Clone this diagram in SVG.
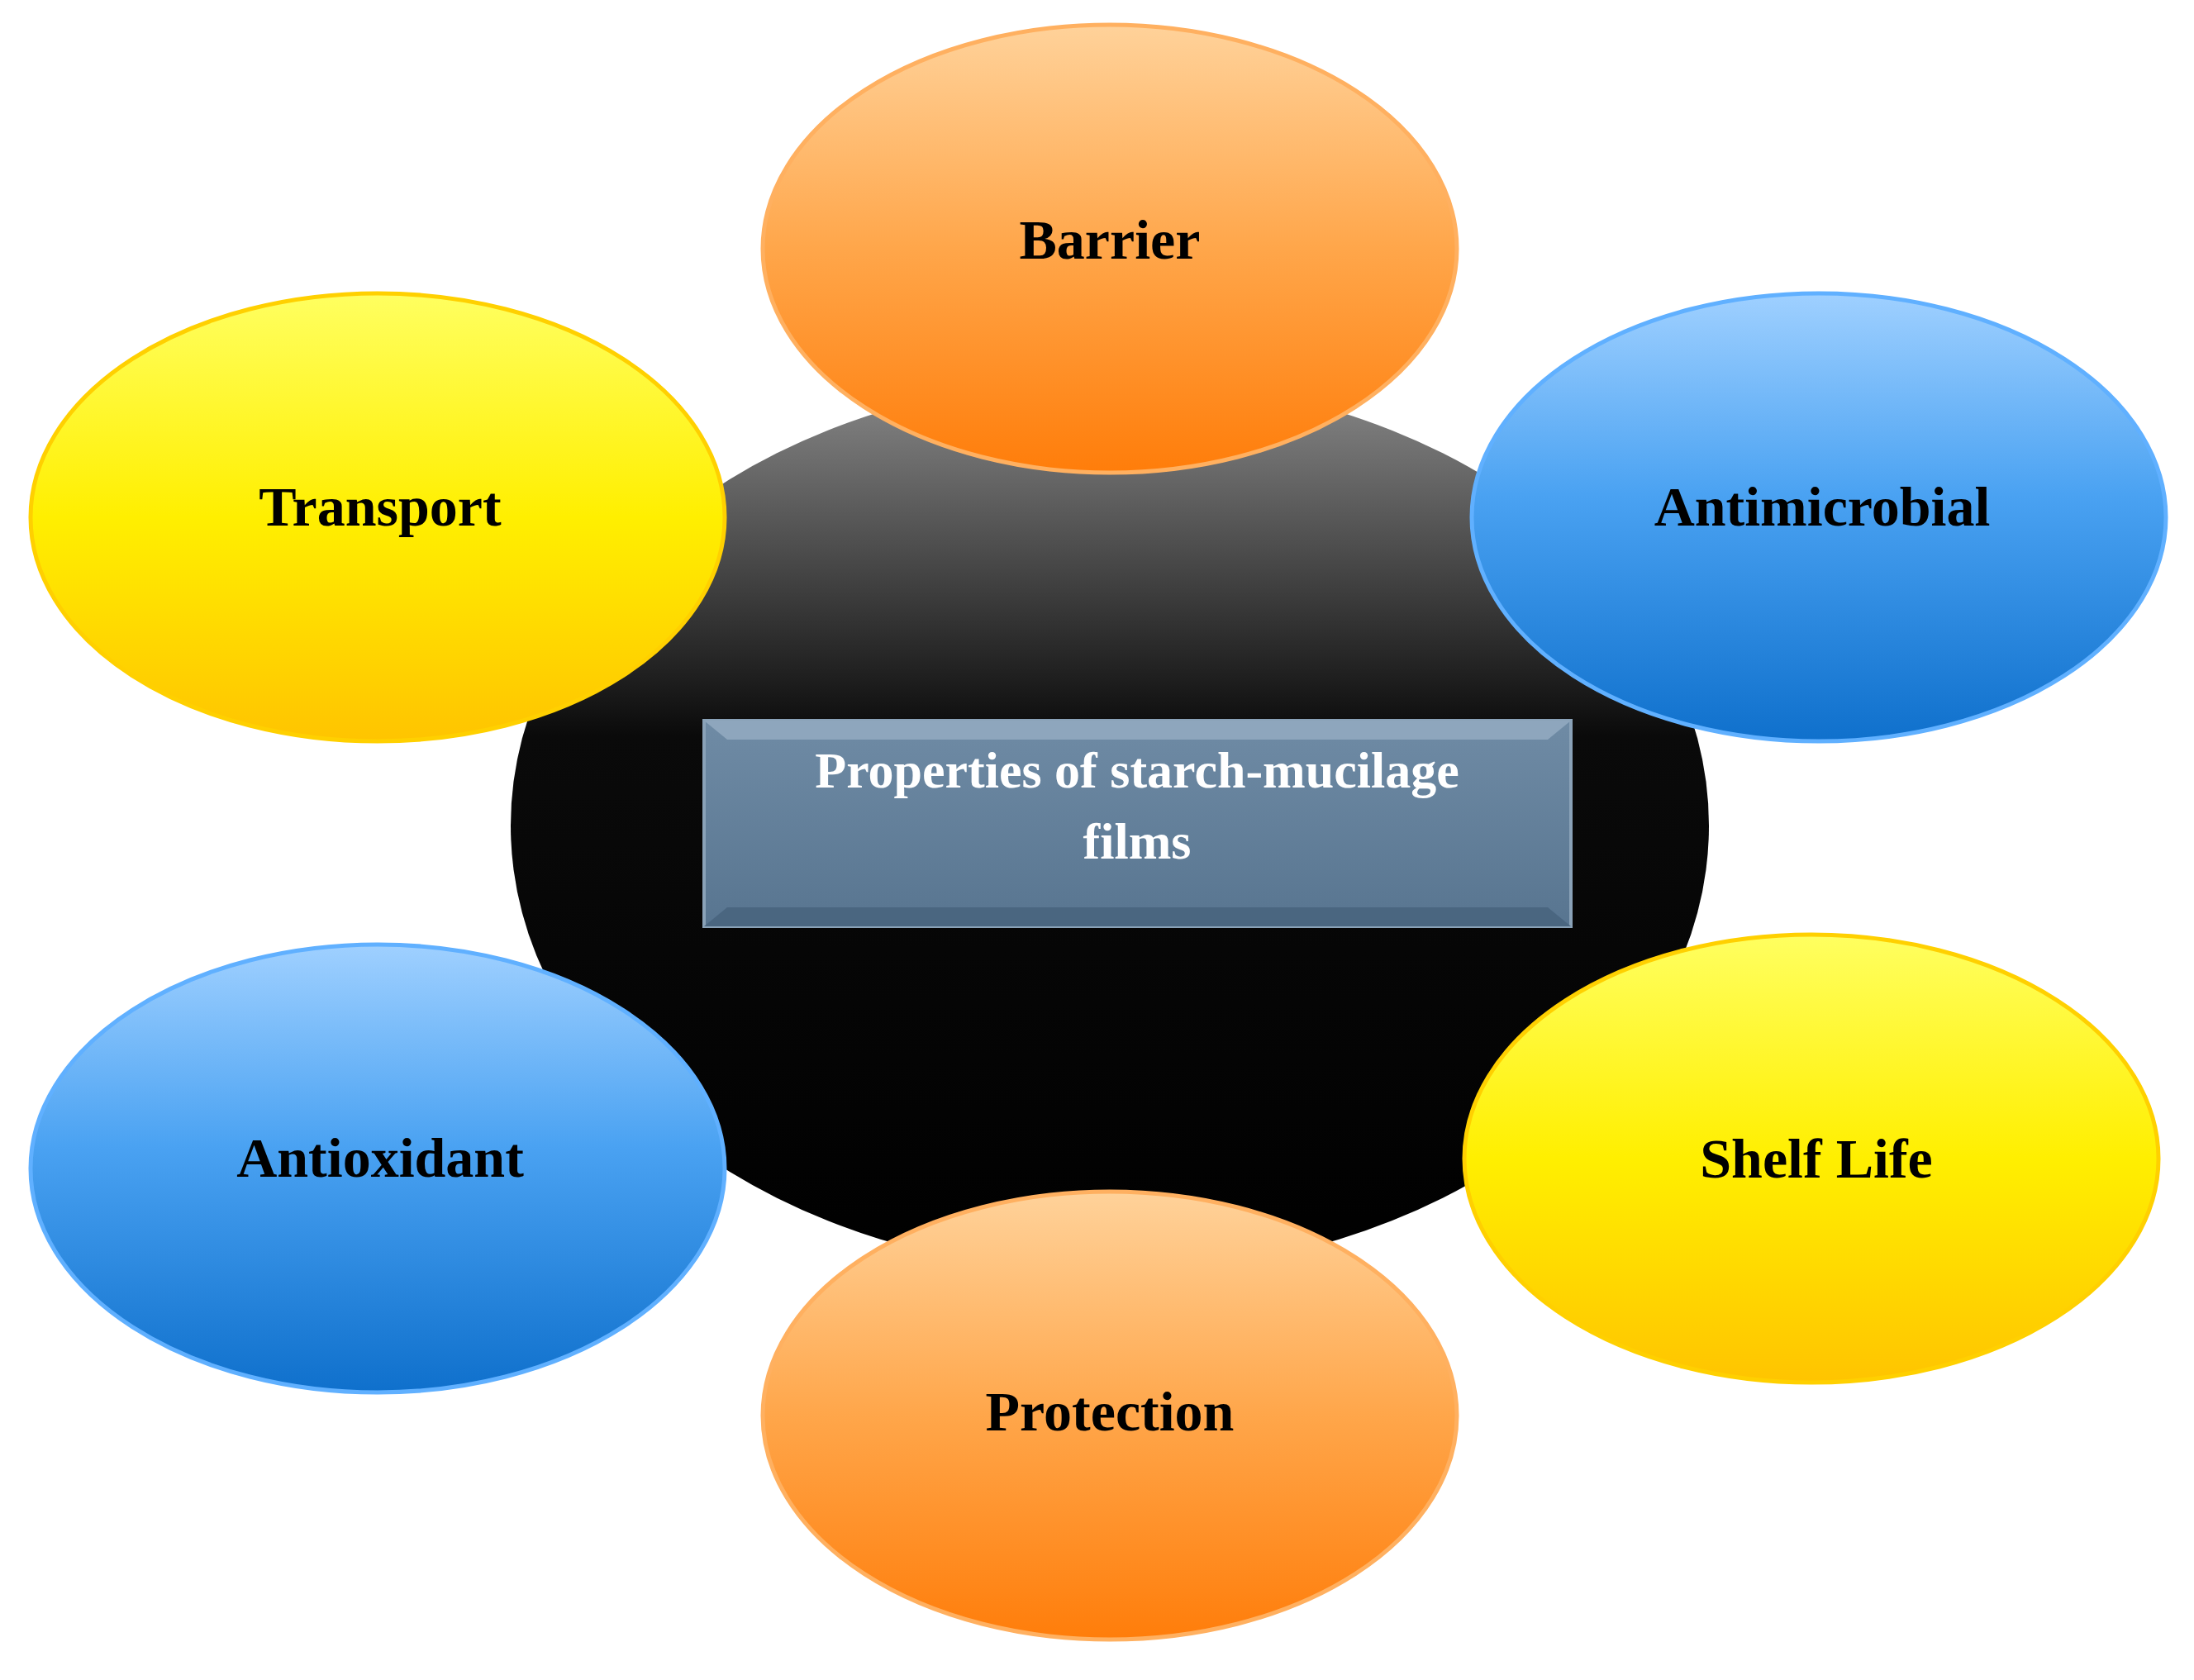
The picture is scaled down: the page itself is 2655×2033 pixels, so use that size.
<svg xmlns="http://www.w3.org/2000/svg" width="2655" height="2033" viewBox="0 0 2655 2033">
<defs>
<linearGradient id="gOr" x1="0" y1="0" x2="0" y2="1"><stop offset="0" stop-color="#ffd29a"/><stop offset="0.5" stop-color="#ffa64a"/><stop offset="1" stop-color="#ff7d0a"/></linearGradient>
<linearGradient id="gYe" x1="0" y1="0" x2="0" y2="1"><stop offset="0" stop-color="#ffff60"/><stop offset="0.5" stop-color="#ffef00"/><stop offset="1" stop-color="#ffc400"/></linearGradient>
<linearGradient id="gBl" x1="0" y1="0" x2="0" y2="1"><stop offset="0" stop-color="#9fd0ff"/><stop offset="0.45" stop-color="#4aa2f2"/><stop offset="1" stop-color="#0f70cc"/></linearGradient>
<linearGradient id="gBk" x1="0" y1="0" x2="0" y2="1"><stop offset="0" stop-color="#8a8a8a"/><stop offset="0.4" stop-color="#0a0a0a"/><stop offset="1" stop-color="#000"/></linearGradient>
<linearGradient id="gBox" x1="0" y1="0" x2="0" y2="1"><stop offset="0" stop-color="#6f8ba5"/><stop offset="1" stop-color="#587590"/></linearGradient>
</defs>
<style>
.lbl{font-family:"Liberation Serif",serif;font-weight:bold;font-size:68px;fill:#000;text-anchor:middle}
.ctr{font-family:"Liberation Serif",serif;font-weight:bold;font-size:62px;fill:#fff;text-anchor:middle}
.or{fill:url(#gOr);stroke:#ffb060;stroke-width:5}
.ye{fill:url(#gYe);stroke:#ffd000;stroke-width:5}
.bl{fill:url(#gBl);stroke:#60b0ff;stroke-width:5}
</style>
<rect width="2655" height="2033" fill="#fff"/>
<g id="center"><ellipse cx="1343" cy="999" rx="725" ry="542" fill="url(#gBk)"/></g>
<g id="connectors"></g>
<g id="title">
<rect x="852" y="872" width="1049" height="249" fill="url(#gBox)" stroke="#8aa2b8" stroke-width="4"/>
<path d="M852 872 L880 895 L1873 895 L1901 872 Z" fill="#8ea6bd"/>
<path d="M852 1121 L880 1098 L1873 1098 L1901 1121 Z" fill="#4a6680"/>
<text class="ctr" x="1376" y="953">Properties of starch-mucilage</text>
<text class="ctr" x="1376" y="1039">films</text>
</g>
<g id="barrier"><ellipse class="or" cx="1343" cy="301" rx="420" ry="271"/><text class="lbl" x="1343" y="313">Barrier</text></g>
<g id="transport"><ellipse class="ye" cx="457" cy="626" rx="420" ry="271"/><text class="lbl" x="460" y="636">Transport</text></g>
<g id="antimicrobial"><ellipse class="bl" cx="2201" cy="626" rx="420" ry="271"/><text class="lbl" x="2205" y="636">Antimicrobial</text></g>
<g id="antioxidant"><ellipse class="bl" cx="457" cy="1414" rx="420" ry="271"/><text class="lbl" x="460" y="1424">Antioxidant</text></g>
<g id="shelflife"><ellipse class="ye" cx="2192" cy="1402" rx="420" ry="271"/><text class="lbl" x="2198" y="1425">Shelf Life</text></g>
<g id="protection"><ellipse class="or" cx="1343" cy="1713" rx="420" ry="271"/><text class="lbl" x="1343" y="1731">Protection</text></g>
</svg>
